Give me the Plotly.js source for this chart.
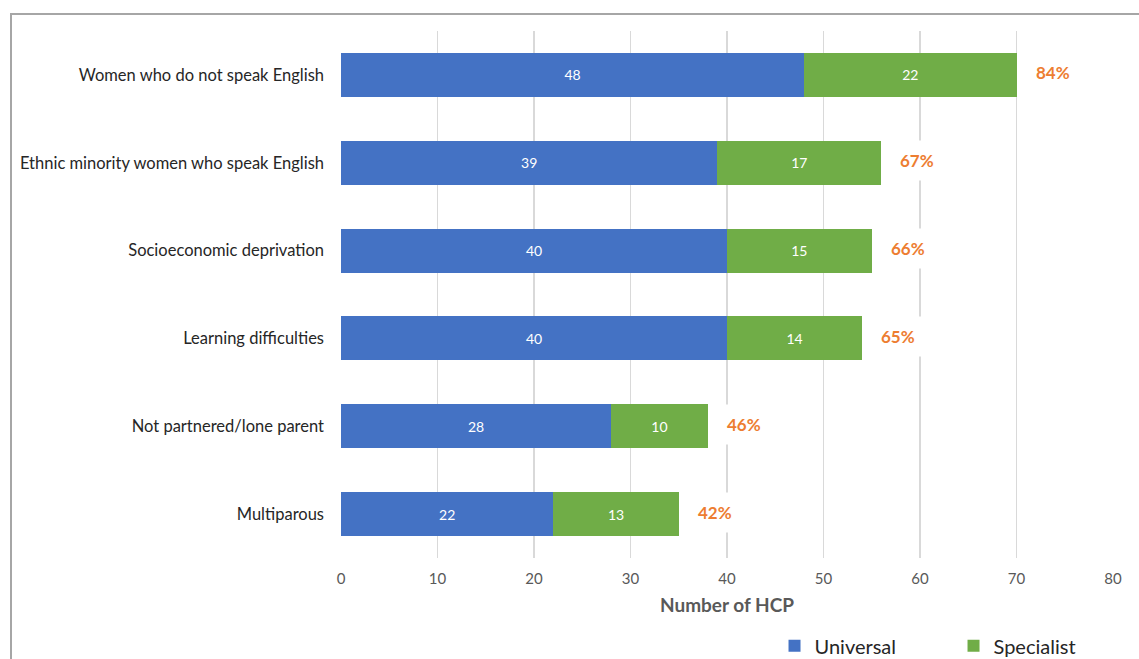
<!DOCTYPE html>
<html>
<head>
<meta charset="utf-8">
<script src="https://cdn.plot.ly/plotly-3.0.1.min.js"></script>
<style>
  html, body { margin: 0; padding: 0; background: #fff; }
  #wrap { position: relative; width: 1139px; height: 659px; overflow: hidden; }
  #chart { width: 1139px; height: 659px; }
  #frame { position: absolute; left: 10px; top: 13px; width: 1200px; height: 700px;
           border-top: 2px solid #a6a6a6; border-left: 2px solid #a6a6a6; pointer-events: none; }
</style>
</head>
<body>
<div id="wrap">
  <div id="chart"></div>
  <div id="frame"></div>
</div>
<script>
const categories = [
  "Women who do not speak English",
  "Ethnic minority women who speak English",
  "Socioeconomic deprivation",
  "Learning difficulties",
  "Not partnered/lone parent",
  "Multiparous"
];
const universal = [48, 39, 40, 40, 28, 22];
const specialist = [22, 17, 15, 14, 10, 13];
const percentLabels = ["84%", "67%", "66%", "65%", "46%", "42%"];
const xTicks = [0, 10, 20, 30, 40, 50, 60, 70, 80];

const FONT = "Lato, 'Open Sans', sans-serif";

const totals = universal.map((u, i) => u + specialist[i]);

const traces = [
  {
    type: "bar", orientation: "h", name: "Universal",
    y: categories, x: universal, width: 0.5,
    marker: { color: "#4472C4" },
    text: universal.map(String), textposition: "inside", insidetextanchor: "middle",
    textfont: { color: "#ffffff", size: 14, family: FONT },
    hoverinfo: "x+y"
  },
  {
    type: "bar", orientation: "h", name: "Specialist",
    y: categories, x: specialist, width: 0.5,
    marker: { color: "#70AD47" },
    text: specialist.map(String), textposition: "inside", insidetextanchor: "middle",
    textfont: { color: "#ffffff", size: 14, family: FONT },
    hoverinfo: "x+y"
  }
];

const annotations = categories.map((c, i) => ({
  x: totals[i], y: c, xref: "x", yref: "y",
  text: "<b>" + percentLabels[i] + "</b>",
  showarrow: false, xanchor: "center", yanchor: "middle",
  xshift: 36, yshift: 2,
  font: { color: "#ED7D31", size: 17, family: FONT },
  bgcolor: "#ffffff", borderpad: 9
}));

const layout = {
  width: 1139, height: 659,
  paper_bgcolor: "#ffffff", plot_bgcolor: "#ffffff",
  margin: { l: 341, r: 26, t: 31, b: 101, autoexpand: false },
  barmode: "stack",
  showlegend: true,
  font: { family: FONT },
  xaxis: {
    range: [0, 80], tickvals: xTicks, ticktext: xTicks.map(String),
    showgrid: true, gridcolor: "#d9d9d9", gridwidth: 1.5,
    zeroline: false, showline: false, ticks: "",
    ticklabelstandoff: 10,
    tickfont: { color: "#595959", size: 15, family: FONT },
    title: { text: "<b>Number of HCP</b>", font: { color: "#595959", size: 19, family: FONT }, standoff: 12 },
    automargin: false,
    fixedrange: true
  },
  yaxis: {
    type: "category", categoryorder: "array", categoryarray: categories,
    autorange: "reversed",
    showgrid: false, zeroline: false, showline: false, ticks: "",
    ticklabelstandoff: 16,
    tickfont: { color: "#262626", size: 16.5, family: FONT },
    automargin: false,
    fixedrange: true
  },
  legend: {
    orientation: "h", x: 0.68, xanchor: "left", y: 0.02, yanchor: "middle",
    xref: "container", yref: "container",
    font: { size: 20, color: "#262626", family: FONT },
    traceorder: "normal", entrywidth: 134, entrywidthmode: "pixels",
    itemwidth: 30
  },
  annotations: annotations,
  bargap: 0.5
};

Plotly.newPlot("chart", traces, layout, { displayModeBar: false, staticPlot: true });
</script>
</body>
</html>
